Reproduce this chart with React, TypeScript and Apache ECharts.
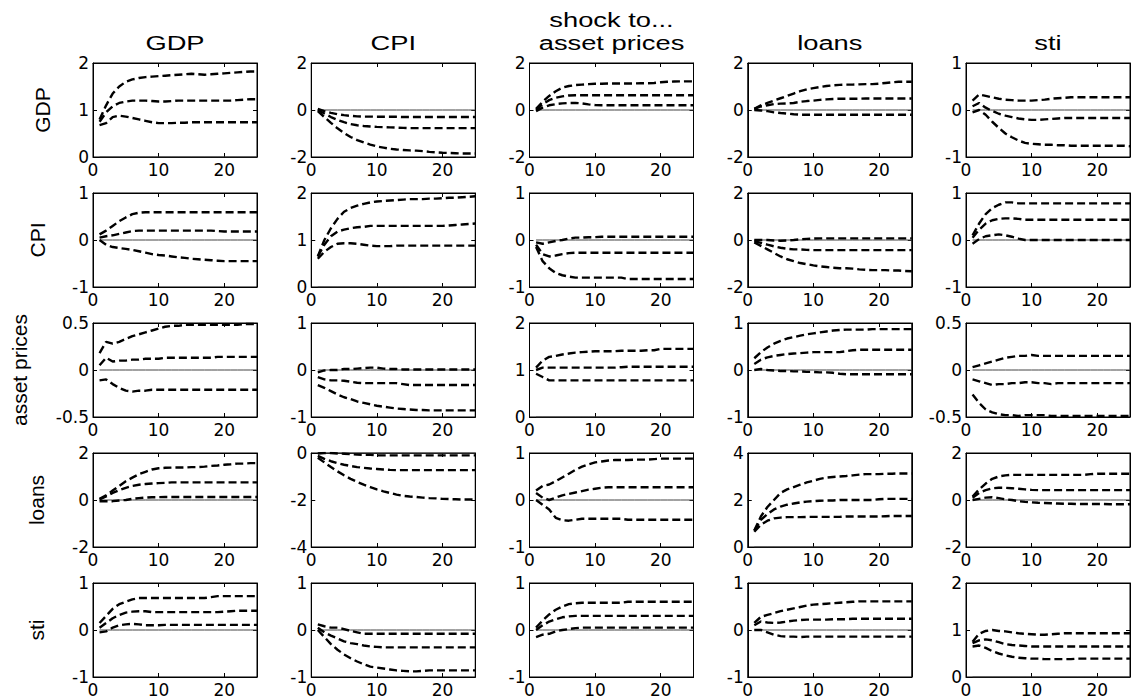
import React, { useEffect, useRef } from "react";
import * as echarts from "echarts";

// ---------- labels ----------
const variables = ["GDP", "CPI", "asset prices", "loans", "sti"];
const horizon = Array.from({ length: 25 }, (_, i) => i + 1);
const xTicks = [0, 10, 20];

// y-axis ranges [row][col]
const yRanges = [
  [[0, 2], [-2, 2], [-2, 2], [-2, 2], [-1, 1]],
  [[-1, 1], [0, 2], [-1, 1], [-2, 2], [-1, 1]],
  [[-0.5, 0.5], [-1, 1], [0, 2], [-1, 1], [-0.5, 0.5]],
  [[-2, 2], [-4, 0], [-1, 1], [0, 4], [-2, 2]],
  [[-1, 1], [-1, 1], [-1, 1], [-1, 1], [0, 2]],
];

// ---------- responses: [upper, median, lower] ----------
// Row 1: response of GDP
const gdpToGdp = [
  [0.80,1.10,1.35,1.50,1.60,1.65,1.68,1.70,1.71,1.72,1.73,1.74,1.75,1.76,1.77,1.76,1.75,1.76,1.77,1.78,1.79,1.80,1.81,1.82,1.82],
  [0.75,0.95,1.08,1.15,1.18,1.20,1.20,1.20,1.19,1.18,1.18,1.19,1.20,1.20,1.20,1.20,1.20,1.20,1.20,1.20,1.20,1.21,1.22,1.23,1.23],
  [0.68,0.72,0.85,0.88,0.86,0.83,0.80,0.77,0.74,0.72,0.72,0.72,0.73,0.73,0.74,0.74,0.74,0.74,0.74,0.74,0.74,0.74,0.74,0.74,0.74],
];
const gdpToCpi = [
  [0.05,-0.05,-0.12,-0.18,-0.22,-0.25,-0.27,-0.28,-0.28,-0.29,-0.29,-0.29,-0.29,-0.30,-0.30,-0.30,-0.30,-0.30,-0.30,-0.30,-0.30,-0.30,-0.30,-0.30,-0.30],
  [0.00,-0.15,-0.30,-0.42,-0.52,-0.60,-0.65,-0.68,-0.70,-0.72,-0.73,-0.74,-0.75,-0.76,-0.77,-0.77,-0.77,-0.77,-0.77,-0.77,-0.77,-0.77,-0.77,-0.77,-0.77],
  [-0.05,-0.30,-0.55,-0.78,-0.98,-1.15,-1.28,-1.38,-1.47,-1.55,-1.60,-1.65,-1.68,-1.70,-1.72,-1.73,-1.75,-1.78,-1.80,-1.82,-1.83,-1.84,-1.85,-1.85,-1.85],
];
const gdpToAp = [
  [0.05,0.35,0.60,0.80,0.95,1.02,1.06,1.08,1.10,1.12,1.12,1.13,1.13,1.13,1.13,1.13,1.14,1.14,1.15,1.18,1.20,1.21,1.22,1.22,1.22],
  [0.00,0.25,0.42,0.52,0.58,0.62,0.63,0.63,0.63,0.63,0.63,0.63,0.63,0.63,0.63,0.63,0.63,0.63,0.63,0.63,0.63,0.63,0.63,0.63,0.63],
  [-0.05,0.10,0.20,0.25,0.28,0.30,0.30,0.28,0.24,0.21,0.20,0.20,0.20,0.20,0.20,0.20,0.20,0.20,0.20,0.20,0.20,0.20,0.20,0.20,0.20],
];
const gdpToLoans = [
  [0.05,0.20,0.30,0.40,0.50,0.60,0.70,0.80,0.88,0.93,0.98,1.02,1.05,1.07,1.08,1.08,1.09,1.10,1.10,1.12,1.15,1.18,1.20,1.20,1.20],
  [0.05,0.15,0.20,0.25,0.27,0.28,0.30,0.35,0.38,0.40,0.43,0.45,0.47,0.48,0.48,0.48,0.48,0.49,0.49,0.49,0.49,0.49,0.49,0.49,0.49],
  [0.00,-0.02,-0.05,-0.10,-0.13,-0.15,-0.18,-0.20,-0.20,-0.20,-0.20,-0.20,-0.20,-0.20,-0.20,-0.20,-0.20,-0.20,-0.20,-0.20,-0.20,-0.20,-0.20,-0.20,-0.20],
];
const gdpToSti = [
  [0.20,0.33,0.30,0.27,0.24,0.22,0.21,0.20,0.20,0.20,0.21,0.22,0.24,0.25,0.26,0.27,0.27,0.27,0.27,0.27,0.27,0.27,0.27,0.27,0.27],
  [0.08,0.15,0.05,-0.02,-0.08,-0.12,-0.15,-0.18,-0.20,-0.21,-0.21,-0.20,-0.19,-0.18,-0.17,-0.17,-0.17,-0.17,-0.17,-0.17,-0.17,-0.17,-0.17,-0.17,-0.17],
  [-0.05,0.00,-0.10,-0.25,-0.38,-0.50,-0.58,-0.65,-0.70,-0.72,-0.73,-0.74,-0.74,-0.75,-0.75,-0.76,-0.76,-0.76,-0.76,-0.76,-0.76,-0.76,-0.76,-0.76,-0.77],
];

// Row 2: response of CPI
const cpiToGdp = [
  [0.12,0.20,0.30,0.40,0.48,0.55,0.58,0.59,0.59,0.59,0.59,0.59,0.59,0.59,0.59,0.59,0.59,0.59,0.59,0.59,0.59,0.59,0.59,0.59,0.59],
  [0.05,0.08,0.10,0.13,0.16,0.19,0.20,0.20,0.20,0.20,0.20,0.20,0.20,0.20,0.20,0.20,0.20,0.20,0.19,0.18,0.18,0.18,0.18,0.18,0.18],
  [0.00,-0.10,-0.15,-0.17,-0.19,-0.21,-0.24,-0.27,-0.30,-0.32,-0.33,-0.35,-0.37,-0.38,-0.40,-0.41,-0.42,-0.43,-0.44,-0.45,-0.45,-0.45,-0.45,-0.45,-0.45],
];
const cpiToCpi = [
  [0.65,1.00,1.25,1.45,1.60,1.68,1.73,1.77,1.80,1.82,1.83,1.84,1.85,1.86,1.87,1.87,1.87,1.88,1.88,1.89,1.90,1.90,1.91,1.92,1.93],
  [0.65,0.90,1.08,1.18,1.22,1.25,1.27,1.28,1.30,1.30,1.30,1.30,1.30,1.30,1.30,1.30,1.30,1.30,1.30,1.30,1.31,1.32,1.33,1.34,1.35],
  [0.60,0.75,0.85,0.92,0.93,0.93,0.92,0.90,0.88,0.87,0.87,0.87,0.88,0.88,0.88,0.88,0.88,0.88,0.88,0.88,0.88,0.88,0.88,0.88,0.88],
];
const cpiToAp = [
  [-0.05,-0.08,-0.05,-0.02,0.00,0.03,0.05,0.05,0.06,0.06,0.07,0.07,0.07,0.07,0.07,0.07,0.07,0.07,0.07,0.07,0.07,0.07,0.07,0.07,0.07],
  [-0.10,-0.30,-0.35,-0.33,-0.30,-0.28,-0.27,-0.27,-0.27,-0.27,-0.27,-0.27,-0.27,-0.27,-0.27,-0.27,-0.27,-0.27,-0.27,-0.27,-0.27,-0.27,-0.27,-0.27,-0.27],
  [-0.15,-0.45,-0.60,-0.70,-0.75,-0.78,-0.80,-0.80,-0.80,-0.80,-0.80,-0.80,-0.80,-0.80,-0.83,-0.83,-0.83,-0.83,-0.83,-0.83,-0.83,-0.83,-0.83,-0.83,-0.83],
];
const cpiToLoans = [
  [0.00,0.00,0.00,-0.02,-0.03,-0.02,0.00,0.03,0.05,0.06,0.07,0.07,0.07,0.07,0.07,0.07,0.07,0.07,0.07,0.07,0.07,0.07,0.07,0.07,0.07],
  [-0.05,-0.12,-0.20,-0.27,-0.33,-0.37,-0.40,-0.40,-0.42,-0.43,-0.43,-0.43,-0.43,-0.43,-0.43,-0.43,-0.43,-0.43,-0.43,-0.43,-0.43,-0.43,-0.43,-0.43,-0.43],
  [-0.10,-0.25,-0.40,-0.55,-0.70,-0.82,-0.90,-0.98,-1.03,-1.08,-1.12,-1.15,-1.18,-1.20,-1.20,-1.22,-1.25,-1.27,-1.28,-1.28,-1.28,-1.30,-1.30,-1.32,-1.33],
];
const cpiToSti = [
  [0.10,0.35,0.55,0.68,0.75,0.80,0.80,0.78,0.78,0.78,0.78,0.78,0.78,0.78,0.78,0.78,0.78,0.78,0.78,0.78,0.78,0.78,0.78,0.78,0.78],
  [0.05,0.22,0.35,0.42,0.45,0.46,0.46,0.45,0.43,0.43,0.43,0.43,0.43,0.43,0.43,0.43,0.43,0.43,0.43,0.43,0.43,0.43,0.43,0.43,0.43],
  [-0.08,0.02,0.08,0.10,0.12,0.10,0.07,0.03,0.00,0.00,0.00,0.00,0.00,0.00,0.00,0.00,0.00,0.00,0.00,0.00,0.00,0.00,0.00,0.00,0.00],
];

// Row 3: response of asset prices
const apToGdp = [
  [0.18,0.30,0.28,0.30,0.33,0.36,0.38,0.40,0.42,0.44,0.46,0.47,0.47,0.48,0.48,0.48,0.48,0.48,0.48,0.48,0.48,0.48,0.49,0.49,0.49],
  [0.05,0.13,0.09,0.10,0.10,0.11,0.11,0.12,0.12,0.12,0.13,0.13,0.13,0.13,0.13,0.13,0.13,0.13,0.14,0.14,0.14,0.14,0.14,0.14,0.14],
  [-0.11,-0.10,-0.15,-0.19,-0.22,-0.23,-0.22,-0.22,-0.21,-0.21,-0.21,-0.21,-0.21,-0.21,-0.21,-0.21,-0.21,-0.21,-0.21,-0.21,-0.21,-0.21,-0.21,-0.21,-0.21],
];
const apToCpi = [
  [-0.05,-0.01,0.00,0.00,0.02,0.02,0.03,0.04,0.05,0.05,0.03,0.02,0.02,0.01,0.01,0.01,0.01,0.01,0.01,0.01,0.01,0.01,0.01,0.01,0.01],
  [-0.15,-0.20,-0.22,-0.22,-0.23,-0.25,-0.27,-0.28,-0.28,-0.28,-0.28,-0.28,-0.28,-0.30,-0.32,-0.32,-0.32,-0.32,-0.32,-0.32,-0.32,-0.32,-0.32,-0.32,-0.32],
  [-0.32,-0.38,-0.45,-0.52,-0.58,-0.62,-0.67,-0.70,-0.73,-0.76,-0.78,-0.80,-0.82,-0.83,-0.84,-0.85,-0.85,-0.86,-0.86,-0.86,-0.86,-0.86,-0.86,-0.86,-0.86],
];
const apToAp = [
  [1.05,1.20,1.28,1.30,1.33,1.35,1.37,1.38,1.39,1.40,1.40,1.40,1.40,1.41,1.41,1.41,1.41,1.42,1.42,1.45,1.45,1.45,1.45,1.45,1.45],
  [1.00,1.05,1.05,1.05,1.05,1.05,1.05,1.05,1.05,1.05,1.05,1.05,1.05,1.06,1.07,1.07,1.07,1.07,1.07,1.07,1.07,1.07,1.07,1.07,1.07],
  [0.92,0.85,0.78,0.78,0.78,0.78,0.78,0.78,0.78,0.78,0.78,0.78,0.78,0.78,0.78,0.78,0.78,0.78,0.78,0.78,0.78,0.78,0.78,0.78,0.78],
];
const apToLoans = [
  [0.25,0.38,0.48,0.56,0.62,0.67,0.70,0.73,0.76,0.78,0.80,0.82,0.84,0.85,0.86,0.86,0.86,0.86,0.87,0.87,0.87,0.87,0.87,0.87,0.87],
  [0.13,0.22,0.27,0.30,0.32,0.34,0.35,0.36,0.37,0.38,0.38,0.38,0.38,0.38,0.40,0.42,0.43,0.43,0.43,0.43,0.43,0.43,0.43,0.43,0.43],
  [0.00,0.02,0.00,-0.01,-0.02,-0.02,-0.03,-0.03,-0.04,-0.04,-0.05,-0.05,-0.06,-0.08,-0.09,-0.09,-0.09,-0.09,-0.09,-0.09,-0.09,-0.09,-0.09,-0.09,-0.09],
];
const apToSti = [
  [0.03,0.05,0.07,0.09,0.11,0.13,0.14,0.15,0.15,0.16,0.15,0.15,0.15,0.15,0.15,0.15,0.15,0.15,0.15,0.15,0.15,0.15,0.15,0.15,0.15],
  [-0.10,-0.12,-0.14,-0.16,-0.15,-0.15,-0.14,-0.14,-0.13,-0.13,-0.14,-0.14,-0.15,-0.14,-0.14,-0.14,-0.14,-0.14,-0.14,-0.14,-0.14,-0.14,-0.14,-0.14,-0.14],
  [-0.26,-0.35,-0.42,-0.45,-0.47,-0.48,-0.48,-0.49,-0.48,-0.48,-0.48,-0.48,-0.49,-0.49,-0.49,-0.49,-0.49,-0.49,-0.49,-0.49,-0.49,-0.49,-0.49,-0.49,-0.49],
];

// Row 4: response of loans
const loansToGdp = [
  [0.05,0.20,0.40,0.60,0.80,0.95,1.10,1.20,1.30,1.35,1.37,1.38,1.38,1.38,1.40,1.40,1.42,1.45,1.47,1.50,1.52,1.55,1.55,1.57,1.57],
  [0.02,0.15,0.30,0.42,0.52,0.60,0.65,0.68,0.70,0.72,0.73,0.75,0.75,0.75,0.75,0.75,0.75,0.75,0.75,0.75,0.75,0.75,0.75,0.75,0.75],
  [-0.05,-0.05,-0.05,-0.02,0.00,0.05,0.08,0.10,0.12,0.12,0.13,0.13,0.13,0.13,0.13,0.13,0.13,0.13,0.13,0.13,0.13,0.13,0.13,0.13,0.13],
];
const loansToCpi = [
  [-0.02,0.00,0.00,-0.02,-0.03,-0.05,-0.07,-0.08,-0.08,-0.10,-0.10,-0.10,-0.10,-0.10,-0.10,-0.10,-0.10,-0.10,-0.10,-0.10,-0.10,-0.10,-0.10,-0.10,-0.10],
  [-0.12,-0.25,-0.35,-0.43,-0.50,-0.55,-0.60,-0.63,-0.66,-0.68,-0.70,-0.72,-0.73,-0.73,-0.73,-0.73,-0.73,-0.73,-0.73,-0.73,-0.73,-0.73,-0.73,-0.73,-0.73],
  [-0.20,-0.40,-0.60,-0.78,-0.95,-1.10,-1.23,-1.35,-1.45,-1.55,-1.63,-1.70,-1.77,-1.82,-1.85,-1.87,-1.90,-1.92,-1.93,-1.95,-1.96,-1.97,-1.98,-1.98,-1.98],
];
const loansToAp = [
  [0.20,0.30,0.33,0.40,0.48,0.56,0.64,0.71,0.76,0.80,0.82,0.84,0.85,0.85,0.85,0.86,0.86,0.86,0.87,0.88,0.88,0.88,0.88,0.88,0.88],
  [0.15,0.05,0.00,0.05,0.10,0.13,0.16,0.19,0.22,0.24,0.26,0.27,0.27,0.27,0.27,0.27,0.27,0.27,0.27,0.27,0.27,0.27,0.27,0.27,0.27],
  [0.00,-0.10,-0.20,-0.38,-0.43,-0.44,-0.42,-0.40,-0.40,-0.40,-0.40,-0.40,-0.40,-0.40,-0.42,-0.42,-0.42,-0.42,-0.42,-0.42,-0.42,-0.42,-0.42,-0.42,-0.42],
];
const loansToLoans = [
  [0.70,1.30,1.70,2.00,2.30,2.45,2.55,2.65,2.75,2.82,2.90,2.95,2.98,3.00,3.02,3.05,3.08,3.10,3.10,3.10,3.12,3.12,3.13,3.13,3.13],
  [0.70,1.15,1.40,1.60,1.72,1.80,1.85,1.90,1.93,1.95,1.97,1.98,1.98,2.00,2.00,2.00,2.00,2.00,2.00,2.03,2.05,2.05,2.05,2.05,2.05],
  [0.65,0.95,1.12,1.22,1.25,1.27,1.27,1.27,1.28,1.28,1.28,1.28,1.28,1.28,1.30,1.30,1.30,1.30,1.30,1.30,1.31,1.32,1.32,1.32,1.32],
];
const loansToSti = [
  [0.15,0.45,0.70,0.90,1.00,1.05,1.07,1.07,1.07,1.07,1.07,1.07,1.07,1.07,1.07,1.07,1.07,1.07,1.10,1.12,1.12,1.12,1.12,1.12,1.12],
  [0.10,0.30,0.42,0.50,0.52,0.52,0.50,0.48,0.45,0.43,0.42,0.42,0.42,0.42,0.42,0.42,0.42,0.42,0.42,0.42,0.42,0.42,0.42,0.42,0.42],
  [0.00,0.05,0.10,0.12,0.08,0.03,0.00,-0.05,-0.08,-0.10,-0.12,-0.13,-0.14,-0.15,-0.16,-0.16,-0.17,-0.17,-0.17,-0.17,-0.17,-0.18,-0.18,-0.18,-0.18],
];

// Row 5: response of sti
const stiToGdp = [
  [0.15,0.30,0.45,0.55,0.60,0.65,0.68,0.68,0.68,0.68,0.68,0.68,0.68,0.68,0.68,0.68,0.68,0.70,0.72,0.72,0.72,0.72,0.72,0.72,0.72],
  [0.05,0.15,0.25,0.32,0.37,0.39,0.40,0.40,0.38,0.38,0.38,0.38,0.38,0.38,0.38,0.38,0.38,0.38,0.38,0.39,0.40,0.41,0.41,0.41,0.41],
  [-0.05,-0.03,0.05,0.10,0.12,0.13,0.12,0.10,0.10,0.10,0.11,0.11,0.11,0.11,0.11,0.11,0.11,0.11,0.11,0.11,0.11,0.11,0.11,0.11,0.11],
];
const stiToCpi = [
  [0.12,0.08,0.05,0.05,0.02,-0.02,-0.05,-0.08,-0.08,-0.08,-0.08,-0.08,-0.08,-0.08,-0.08,-0.08,-0.08,-0.08,-0.08,-0.08,-0.08,-0.08,-0.08,-0.08,-0.08],
  [0.05,-0.05,-0.12,-0.18,-0.24,-0.28,-0.30,-0.33,-0.35,-0.36,-0.37,-0.37,-0.37,-0.37,-0.37,-0.37,-0.37,-0.37,-0.37,-0.37,-0.37,-0.37,-0.37,-0.37,-0.37],
  [0.00,-0.15,-0.30,-0.42,-0.52,-0.60,-0.67,-0.73,-0.78,-0.80,-0.82,-0.84,-0.86,-0.87,-0.88,-0.88,-0.87,-0.86,-0.86,-0.86,-0.86,-0.86,-0.86,-0.86,-0.86],
];
const stiToAp = [
  [0.05,0.20,0.33,0.43,0.50,0.55,0.57,0.58,0.58,0.58,0.58,0.58,0.58,0.58,0.60,0.60,0.60,0.60,0.60,0.60,0.60,0.60,0.60,0.60,0.60],
  [0.00,0.10,0.18,0.23,0.27,0.29,0.30,0.30,0.30,0.30,0.30,0.30,0.30,0.30,0.30,0.30,0.30,0.30,0.30,0.30,0.30,0.30,0.30,0.30,0.30],
  [-0.15,-0.10,-0.08,-0.03,0.00,0.02,0.04,0.05,0.05,0.05,0.05,0.05,0.05,0.05,0.05,0.05,0.05,0.05,0.05,0.05,0.05,0.05,0.05,0.05,0.05],
];
const stiToLoans = [
  [0.15,0.28,0.32,0.36,0.40,0.43,0.46,0.49,0.52,0.54,0.55,0.56,0.57,0.58,0.59,0.60,0.61,0.61,0.61,0.61,0.61,0.61,0.61,0.61,0.61],
  [0.10,0.18,0.16,0.15,0.16,0.18,0.20,0.21,0.22,0.22,0.22,0.22,0.23,0.23,0.23,0.24,0.24,0.24,0.24,0.24,0.24,0.24,0.24,0.24,0.24],
  [0.00,0.00,-0.05,-0.10,-0.13,-0.14,-0.14,-0.15,-0.14,-0.14,-0.14,-0.14,-0.14,-0.14,-0.14,-0.14,-0.14,-0.14,-0.14,-0.14,-0.14,-0.14,-0.14,-0.14,-0.14],
];
const stiToSti = [
  [0.75,0.92,0.98,1.00,0.98,0.97,0.95,0.93,0.92,0.91,0.90,0.90,0.91,0.92,0.93,0.93,0.93,0.93,0.93,0.93,0.93,0.93,0.93,0.93,0.93],
  [0.72,0.78,0.80,0.78,0.74,0.70,0.68,0.67,0.66,0.65,0.65,0.65,0.65,0.65,0.65,0.65,0.65,0.65,0.65,0.65,0.65,0.65,0.65,0.65,0.65],
  [0.65,0.67,0.62,0.55,0.50,0.46,0.43,0.41,0.40,0.39,0.39,0.38,0.38,0.38,0.38,0.38,0.39,0.39,0.39,0.39,0.39,0.39,0.39,0.39,0.39],
];

const panels = [
  [gdpToGdp, gdpToCpi, gdpToAp, gdpToLoans, gdpToSti],
  [cpiToGdp, cpiToCpi, cpiToAp, cpiToLoans, cpiToSti],
  [apToGdp, apToCpi, apToAp, apToLoans, apToSti],
  [loansToGdp, loansToCpi, loansToAp, loansToLoans, loansToSti],
  [stiToGdp, stiToCpi, stiToAp, stiToLoans, stiToSti],
];

// ---------- layout ----------
const GRID_LEFT0 = 93;
const GRID_DX = 218.25;
const GRID_W = 164;
const GRID_TOP0 = 63;
const GRID_DY = 130;
const GRID_H = 94;
const rowLabelX = [42, 37, 19, 36, 36];

const TICK_FONT = "DejaVu Sans";
const TEXT_FONT = "Liberation Sans";

function buildOption() {
  const grid: any[] = [];
  const xAxis: any[] = [];
  const yAxis: any[] = [];
  const series: any[] = [];
  const graphic: any[] = [];

  for (let r = 0; r < 5; r++) {
    for (let c = 0; c < 5; c++) {
      const k = r * 5 + c;
      const [ymin, ymax] = yRanges[r][c];
      const interval = (ymax - ymin) / 2;
      grid.push({
        left: GRID_LEFT0 + c * GRID_DX,
        top: GRID_TOP0 + r * GRID_DY,
        width: GRID_W,
        height: GRID_H,
        show: true,
        borderColor: "#000",
        borderWidth: 1,
        backgroundColor: "#fff",
      });
      const xCommon = {
        type: "value",
        gridIndex: k,
        min: 0,
        max: 25,
        splitLine: { show: false },
        axisLine: { show: true, onZero: false, lineStyle: { color: "#000", width: 1 } },
        axisTick: { show: true, inside: true, length: 4, customValues: xTicks, lineStyle: { color: "#000" } },
      };
      xAxis.push({
        ...xCommon,
        position: "bottom",
        axisLabel: {
          show: true,
          customValues: xTicks,
          color: "#000",
          fontFamily: TICK_FONT,
          fontSize: 17,
          margin: 4,
        },
      });
      xAxis.push({ ...xCommon, position: "top", axisLabel: { show: false } });
      const yCommon = {
        type: "value",
        gridIndex: k,
        min: ymin,
        max: ymax,
        interval,
        splitLine: { show: false },
        axisLine: { show: true, onZero: false, lineStyle: { color: "#000", width: 1 } },
        axisTick: { show: true, inside: true, length: 4, lineStyle: { color: "#000" } },
      };
      yAxis.push({
        ...yCommon,
        position: "left",
        axisLabel: {
          show: true,
          color: "#000",
          fontFamily: TICK_FONT,
          fontSize: 17,
          margin: 4,
          showMinLabel: true,
          showMaxLabel: true,
        },
      });
      yAxis.push({ ...yCommon, position: "right", axisLabel: { show: false } });

      // zero reference line
      series.push({
        type: "line",
        xAxisIndex: 2 * k,
        yAxisIndex: 2 * k,
        data: horizon.map((h) => [h, 0]),
        symbol: "none",
        silent: true,
        lineStyle: { color: "#444", width: 1, type: "solid" },
        z: 2,
      });
      panels[r][c].forEach((line) => {
        series.push({
          type: "line",
          xAxisIndex: 2 * k,
          yAxisIndex: 2 * k,
          data: line.map((v, i) => [horizon[i], v]),
          symbol: "none",
          silent: true,
          lineStyle: { color: "#000", width: 2.4, type: [8, 4], cap: "butt" },
          z: 3,
        });
      });
    }
  }

  const textStyle = (text: string) => ({
    text,
    fill: "#000",
    font: `21px "${TEXT_FONT}"`,
    fontSize: 21,
    fontFamily: TEXT_FONT,
    textAlign: "center",
    align: "center",
    textVerticalAlign: "middle",
    verticalAlign: "middle",
  });

  // column titles
  variables.forEach((name, c) => {
    graphic.push({
      type: "text",
      x: GRID_LEFT0 + c * GRID_DX + GRID_W / 2,
      y: 42.5,
      scaleX: 1.3,
      style: textStyle(name),
    });
  });
  graphic.push({
    type: "text",
    x: GRID_LEFT0 + 2 * GRID_DX + GRID_W / 2,
    y: 19.5,
    scaleX: 1.3,
    style: textStyle("shock to..."),
  });
  // row labels
  variables.forEach((name, r) => {
    graphic.push({
      type: "text",
      x: rowLabelX[r],
      y: GRID_TOP0 + r * GRID_DY + GRID_H / 2,
      rotation: Math.PI / 2,
      style: textStyle(name),
    });
  });

  return {
    animation: false,
    backgroundColor: "#fff",
    grid,
    xAxis,
    yAxis,
    series,
    graphic,
  };
}

export default function App() {
  const ref = useRef<HTMLDivElement>(null);
  useEffect(() => {
    if (!ref.current) return;
    const chart = echarts.init(ref.current, undefined, { renderer: "svg" });
    chart.setOption(buildOption() as any);
    return () => chart.dispose();
  }, []);
  return (
    <div
      ref={ref}
      style={{ position: "fixed", left: 0, top: 0, width: 1137, height: 698, background: "#fff" }}
    />
  );
}
